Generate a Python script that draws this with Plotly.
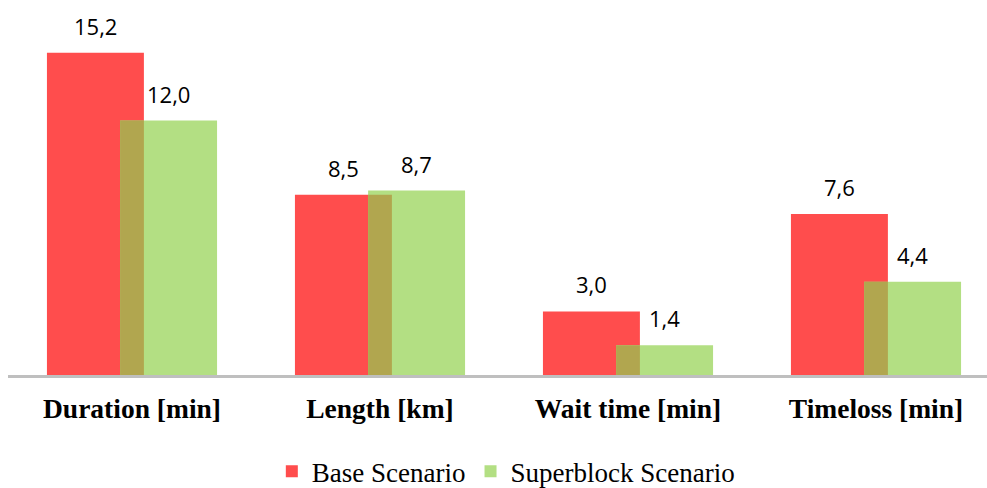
import plotly.graph_objects as go

categories = ["Duration [min]", "Length [km]", "Wait time [min]", "Timeloss [min]"]
base_values = [15.2, 8.5, 3.0, 7.6]
superblock_values = [12.0, 8.7, 1.4, 4.4]
series_names = ["Base Scenario", "Superblock Scenario"]

RED = "#FF4D4D"
GREEN = "#B3DF83"
OLIVE = "#B1A64F"

bar_w = 0.391
red_off = -0.343
green_off = -0.048
red_end = red_off + bar_w
ov_w = red_end - green_off

xs = list(range(len(categories)))
overlap_vals = [min(a, b) for a, b in zip(base_values, superblock_values)]

fig = go.Figure()
fig.add_trace(go.Bar(x=xs, y=base_values, name=series_names[0], marker=dict(color=RED, line=dict(width=0)),
                     offset=red_off, width=bar_w, hoverinfo="skip"))
fig.add_trace(go.Bar(x=xs, y=superblock_values, name=series_names[1], marker=dict(color=GREEN, line=dict(width=0)),
                     offset=green_off, width=bar_w, hoverinfo="skip"))
fig.add_trace(go.Bar(x=xs, y=overlap_vals, name="overlap", showlegend=False, marker=dict(color=OLIVE, line=dict(width=0)),
                     offset=green_off, width=ov_w, hoverinfo="skip"))

def fmt(v):
    return f"{v:.1f}".replace(".", ",")

LABEL_FONT = dict(family="Open Sans", size=22, color="#000")
annotations = []
for i, (b, s) in enumerate(zip(base_values, superblock_values)):
    annotations.append(dict(x=i + red_off + bar_w / 2, y=b, xref="x", yref="y", text=fmt(b), showarrow=False,
                            yanchor="bottom", yshift=10, font=LABEL_FONT))
    annotations.append(dict(x=i + green_off + bar_w / 2, y=s, xref="x", yref="y", text=fmt(s), showarrow=False,
                            yanchor="bottom", yshift=10, font=LABEL_FONT))

fig.update_layout(
    width=987, height=510,
    margin=dict(l=8, r=0, t=0, b=135),
    paper_bgcolor="white", plot_bgcolor="white",
    barmode="overlay",
    showlegend=True,
    legend=dict(orientation="h", x=0.5085, xanchor="center", y=-0.258, yanchor="middle",
                font=dict(family="Liberation Serif", size=27, color="#000"), itemwidth=30),
    annotations=annotations,
    xaxis=dict(range=[-0.5, -0.5 + 979 / 248], tickvals=xs, ticktext=categories, showgrid=False, zeroline=False,
               showline=True, linecolor="#BFBFBF", linewidth=3, ticks="", ticklabelstandoff=7,
               tickfont=dict(family="Liberation Serif", size=27.5, color="#000", weight="bold")),
    yaxis=dict(range=[0, 375 / 21.2], visible=False, showgrid=False, zeroline=False),
)

fig.write_html("out.html", config={"displayModeBar": False},
               post_script="document.body.style.margin='0';document.body.style.overflow='hidden';")
